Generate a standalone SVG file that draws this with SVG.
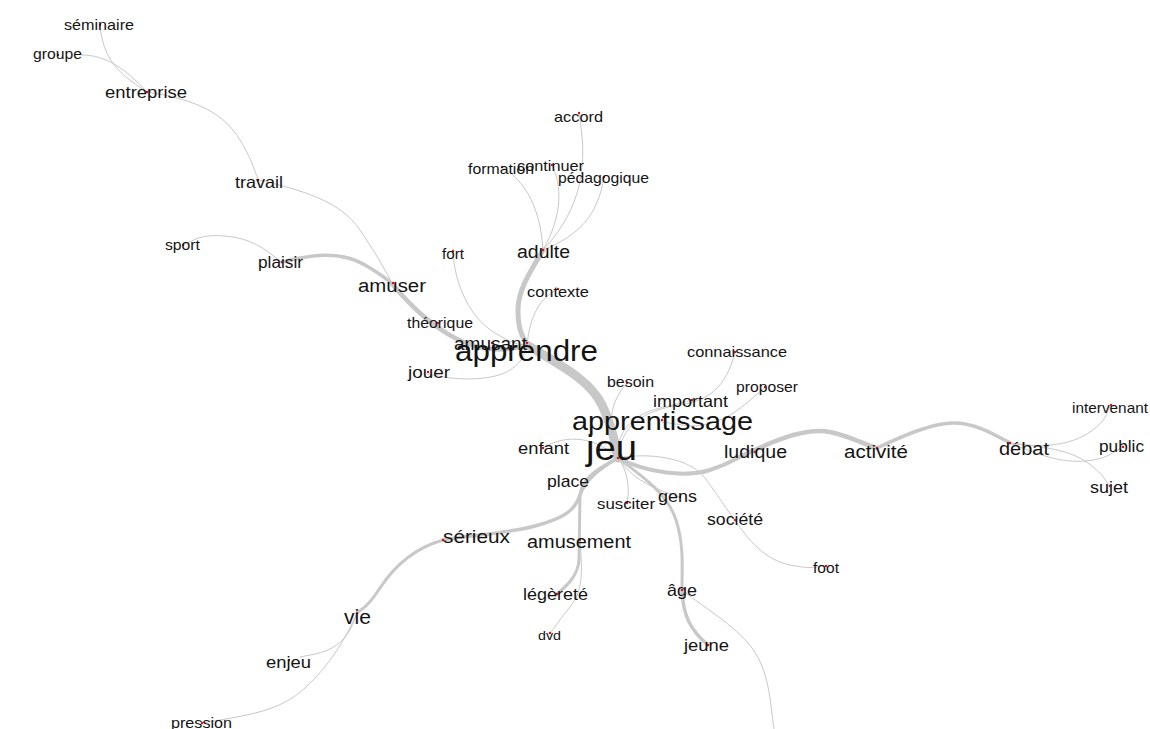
<svg xmlns="http://www.w3.org/2000/svg" width="1150" height="729" viewBox="0 0 1150 729">
<style>
.e{fill:none;stroke:#c8c8c8;stroke-width:1;stroke-linecap:round}
text{font-family:"Liberation Sans",Arial,sans-serif;fill:#141414}
.d{fill:#e01010}
</style>
<rect width="1150" height="729" fill="#ffffff"/>
<g id="connectors">
<path class="e" d="M100,27 C104,55 112,70 147,92"/>
<path class="e" d="M82,55 C105,55 125,68 147,92"/>
<path class="e" d="M147,92 C200,100 225,115 240,140 S255,175 259,180"/>
<path class="e" d="M259,180 C300,190 340,200 360,230 S385,270 393,285"/>
<path class="e" d="M282,263 C265,248 250,238 225,236 S195,240 183,245"/>
<path class="e" style="stroke-width:3.5" d="M282,262 C310,255 340,250 365,265 S390,282 393,285"/>
<path class="e" style="stroke-width:4.5" d="M393,285 C410,305 430,325 455,338 S505,352 527,345"/>
<path class="e" d="M453,253 C455,285 470,318 495,333 S520,343 527,345"/>
<path class="e" d="M428,374 C460,382 495,380 510,370 S524,352 527,345"/>
<path class="e" d="M558,289 C540,298 530,315 527,345"/>
<path class="e" style="stroke-width:5" d="M543,250 C530,272 518,290 518,310 S522,335 527,345"/>
<path class="e" d="M502,167 C520,178 540,200 543,250"/>
<path class="e" d="M552,165 C562,185 563,215 543,250"/>
<path class="e" d="M579,113 C585,150 590,200 543,250"/>
<path class="e" d="M604,177 C598,215 580,235 543,250"/>
<path class="e" style="stroke-width:9" d="M527,345 C560,365 590,380 602,405 S615,445 618,458"/>
<path class="e" d="M627,383 C612,400 605,420 618,458"/>
<path class="e" d="M618,458 C615,435 630,415 660,408 S685,402 692,400"/>
<path class="e" d="M735,352 C728,380 715,400 680,405 C645,410 620,425 618,458"/>
<path class="e" d="M765,387 C748,402 735,415 715,422 S685,425 662,422"/>
<path class="e" d="M543,448 C560,437 590,432 618,458"/>
<path class="e" style="stroke-width:3.5" d="M618,458 C600,468 585,480 580,495 S565,518 535,526 S470,535 443,540"/>
<path class="e" style="stroke-width:3" d="M443,540 C415,548 395,565 380,588 S362,608 357,613"/>
<path class="e" d="M357,613 C345,640 330,665 305,688 S250,715 202,723"/>
<path class="e" d="M357,613 C350,635 340,650 310,655 L300,657"/>
<path class="e" style="stroke-width:3" d="M618,458 C598,468 582,478 580,495 L579,560 C578,575 568,585 557,594"/>
<path class="e" d="M580,540 C582,570 584,590 570,607 S555,628 550,633"/>
<path class="e" d="M618,458 C628,470 630,490 627,503"/>
<path class="e" d="M618,458 C632,478 650,488 680,497"/>
<path class="e" style="stroke-width:3" d="M618,458 C645,478 668,495 676,520 S682,565 682,590"/>
<path class="e" style="stroke-width:3.5" d="M682,590 C683,615 690,630 708,645"/>
<path class="e" d="M682,590 C700,605 735,625 752,648 S770,700 774,729"/>
<path class="e" d="M618,458 C650,452 690,458 705,478 S730,515 735,520"/>
<path class="e" d="M735,520 C748,540 765,560 790,565 S815,566 826,566"/>
<path class="e" style="stroke-width:4" d="M618,458 C645,472 685,478 710,470 S740,455 755,450"/>
<path class="e" style="stroke-width:4.5" d="M755,450 C780,438 810,428 830,432 S865,445 877,448"/>
<path class="e" style="stroke-width:3.5" d="M877,448 C905,435 930,424 952,423 S995,435 1010,443"/>
<path class="e" d="M1010,443 C1040,448 1070,446 1090,432 S1105,412 1111,405"/>
<path class="e" d="M1010,443 C1040,455 1060,463 1085,461 S1115,450 1123,447"/>
<path class="e" d="M1010,443 C1045,447 1070,450 1088,463 S1105,482 1110,486"/>
</g>
<g id="n-seminaire"><circle class="d" cx="100" cy="25" r="1.2"/><text x="64" y="30" font-size="15" textLength="70" lengthAdjust="spacingAndGlyphs">séminaire</text></g>
<g id="n-groupe"><circle class="d" cx="58" cy="55" r="1.2"/><text x="33" y="59" font-size="14.5" textLength="49" lengthAdjust="spacingAndGlyphs">groupe</text></g>
<g id="n-entreprise"><circle class="d" cx="147" cy="92" r="1.2"/><text x="105" y="98" font-size="17" textLength="82" lengthAdjust="spacingAndGlyphs">entreprise</text></g>
<g id="n-travail"><circle class="d" cx="258" cy="180" r="1.2"/><text x="235" y="188" font-size="16.5" textLength="48" lengthAdjust="spacingAndGlyphs">travail</text></g>
<g id="n-sport"><circle class="d" cx="183" cy="245" r="1.2"/><text x="165" y="250" font-size="14.5" textLength="35" lengthAdjust="spacingAndGlyphs">sport</text></g>
<g id="n-plaisir"><circle class="d" cx="282" cy="262" r="1.2"/><text x="258" y="268" font-size="16" textLength="45" lengthAdjust="spacingAndGlyphs">plaisir</text></g>
<g id="n-amuser"><circle class="d" cx="393" cy="283" r="1.2"/><text x="358" y="292" font-size="18.8" textLength="68" lengthAdjust="spacingAndGlyphs">amuser</text></g>
<g id="n-theorique"><circle class="d" cx="438" cy="323" r="1.2"/><text x="407" y="328" font-size="14.6" textLength="66" lengthAdjust="spacingAndGlyphs">théorique</text></g>
<g id="n-fort"><circle class="d" cx="453" cy="251" r="1.2"/><text x="442" y="259" font-size="14" textLength="22" lengthAdjust="spacingAndGlyphs">fort</text></g>
<g id="n-adulte"><circle class="d" cx="543" cy="250" r="1.2"/><text x="517" y="258" font-size="18" textLength="53" lengthAdjust="spacingAndGlyphs">adulte</text></g>
<g id="n-contexte"><circle class="d" cx="558" cy="289" r="1.2"/><text x="527" y="297" font-size="15" textLength="62" lengthAdjust="spacingAndGlyphs">contexte</text></g>
<g id="n-formation"><circle class="d" cx="502" cy="167" r="1.2"/><text x="468" y="174" font-size="14.6" textLength="66" lengthAdjust="spacingAndGlyphs">formation</text></g>
<g id="n-continuer"><circle class="d" cx="552" cy="165" r="1.2"/><text x="517" y="171" font-size="15" textLength="67" lengthAdjust="spacingAndGlyphs">continuer</text></g>
<g id="n-pedagogique"><circle class="d" cx="604" cy="177" r="1.2"/><text x="558" y="183" font-size="14.5" textLength="91" lengthAdjust="spacingAndGlyphs">pédagogique</text></g>
<g id="n-accord"><circle class="d" cx="579" cy="113" r="1.2"/><text x="554" y="122" font-size="15" textLength="49" lengthAdjust="spacingAndGlyphs">accord</text></g>
<g id="n-amusant"><circle class="d" cx="492" cy="343" r="1.2"/><text x="454" y="350" font-size="17.5" textLength="73" lengthAdjust="spacingAndGlyphs">amusant</text></g>
<g id="n-apprendre"><circle class="d" cx="527" cy="343" r="1.2"/><text x="455" y="361" font-size="29" textLength="143" lengthAdjust="spacingAndGlyphs">apprendre</text></g>
<g id="n-jouer"><circle class="d" cx="428" cy="372" r="1.2"/><text x="408" y="378" font-size="17.4" textLength="42" lengthAdjust="spacingAndGlyphs">jouer</text></g>
<g id="n-connaissance"><circle class="d" cx="735" cy="352" r="1.2"/><text x="687" y="357" font-size="15" textLength="100" lengthAdjust="spacingAndGlyphs">connaissance</text></g>
<g id="n-besoin"><circle class="d" cx="627" cy="383" r="1.2"/><text x="607" y="387" font-size="14.7" textLength="47" lengthAdjust="spacingAndGlyphs">besoin</text></g>
<g id="n-proposer"><circle class="d" cx="765" cy="387" r="1.2"/><text x="736" y="392" font-size="14.4" textLength="62" lengthAdjust="spacingAndGlyphs">proposer</text></g>
<g id="n-important"><circle class="d" cx="692" cy="400" r="1.2"/><text x="653" y="407" font-size="16.5" textLength="75" lengthAdjust="spacingAndGlyphs">important</text></g>
<g id="n-apprentissage"><circle class="d" cx="662" cy="420" r="1.2"/><text x="572" y="430" font-size="26.5" textLength="181" lengthAdjust="spacingAndGlyphs">apprentissage</text></g>
<g id="n-jeu"><circle class="d" cx="618" cy="458" r="1.2"/><text x="586" y="460" font-size="35" textLength="51" lengthAdjust="spacingAndGlyphs">jeu</text></g>
<g id="n-enfant"><circle class="d" cx="543" cy="448" r="1.2"/><text x="518" y="454" font-size="16.9" textLength="51" lengthAdjust="spacingAndGlyphs">enfant</text></g>
<g id="n-ludique"><circle class="d" cx="755" cy="452" r="1.2"/><text x="724" y="458" font-size="18" textLength="63" lengthAdjust="spacingAndGlyphs">ludique</text></g>
<g id="n-activite"><circle class="d" cx="877" cy="448" r="1.2"/><text x="844" y="458" font-size="18.9" textLength="64" lengthAdjust="spacingAndGlyphs">activité</text></g>
<g id="n-debat"><circle class="d" cx="1010" cy="443" r="1.2"/><text x="999" y="455" font-size="18.4" textLength="50" lengthAdjust="spacingAndGlyphs">débat</text></g>
<g id="n-intervenant"><circle class="d" cx="1111" cy="405" r="1.2"/><text x="1072" y="413" font-size="14.1" textLength="76" lengthAdjust="spacingAndGlyphs">intervenant</text></g>
<g id="n-public"><circle class="d" cx="1123" cy="447" r="1.2"/><text x="1099" y="452" font-size="15.9" textLength="45" lengthAdjust="spacingAndGlyphs">public</text></g>
<g id="n-sujet"><circle class="d" cx="1110" cy="486" r="1.2"/><text x="1090" y="493" font-size="16.5" textLength="38" lengthAdjust="spacingAndGlyphs">sujet</text></g>
<g id="n-place"><circle class="d" cx="568" cy="480" r="1.2"/><text x="547" y="487" font-size="16.2" textLength="42" lengthAdjust="spacingAndGlyphs">place</text></g>
<g id="n-susciter"><circle class="d" cx="627" cy="503" r="1.2"/><text x="597" y="509" font-size="15.5" textLength="58" lengthAdjust="spacingAndGlyphs">susciter</text></g>
<g id="n-gens"><circle class="d" cx="680" cy="497" r="1.2"/><text x="658" y="502" font-size="16.5" textLength="39" lengthAdjust="spacingAndGlyphs">gens</text></g>
<g id="n-societe"><circle class="d" cx="735" cy="520" r="1.2"/><text x="707" y="525" font-size="16.3" textLength="56" lengthAdjust="spacingAndGlyphs">société</text></g>
<g id="n-foot"><circle class="d" cx="826" cy="566" r="1.2"/><text x="813" y="573" font-size="14.3" textLength="26" lengthAdjust="spacingAndGlyphs">foot</text></g>
<g id="n-serieux"><circle class="d" cx="443" cy="540" r="1.2"/><text x="443" y="543" font-size="19" textLength="67" lengthAdjust="spacingAndGlyphs">sérieux</text></g>
<g id="n-amusement"><circle class="d" cx="580" cy="540" r="1.2"/><text x="527" y="548" font-size="18.3" textLength="104" lengthAdjust="spacingAndGlyphs">amusement</text></g>
<g id="n-legerete"><circle class="d" cx="557" cy="594" r="1.2"/><text x="523" y="600" font-size="16.6" textLength="65" lengthAdjust="spacingAndGlyphs">légèreté</text></g>
<g id="n-dvd"><circle class="d" cx="550" cy="633" r="1.2"/><text x="538" y="640" font-size="13.5" textLength="23" lengthAdjust="spacingAndGlyphs">dvd</text></g>
<g id="n-age"><circle class="d" cx="682" cy="590" r="1.2"/><text x="667" y="596" font-size="16.5" textLength="30" lengthAdjust="spacingAndGlyphs">âge</text></g>
<g id="n-jeune"><circle class="d" cx="708" cy="645" r="1.2"/><text x="684" y="651" font-size="16.9" textLength="45" lengthAdjust="spacingAndGlyphs">jeune</text></g>
<g id="n-vie"><circle class="d" cx="357" cy="613" r="1.2"/><text x="344" y="624" font-size="19.4" textLength="27" lengthAdjust="spacingAndGlyphs">vie</text></g>
<g id="n-enjeu"><circle class="d" cx="289" cy="660" r="1.2"/><text x="266" y="668" font-size="16.9" textLength="45" lengthAdjust="spacingAndGlyphs">enjeu</text></g>
<g id="n-pression"><circle class="d" cx="202" cy="723" r="1.2"/><text x="171" y="728" font-size="14.8" textLength="61" lengthAdjust="spacingAndGlyphs">pression</text></g>
</svg>
